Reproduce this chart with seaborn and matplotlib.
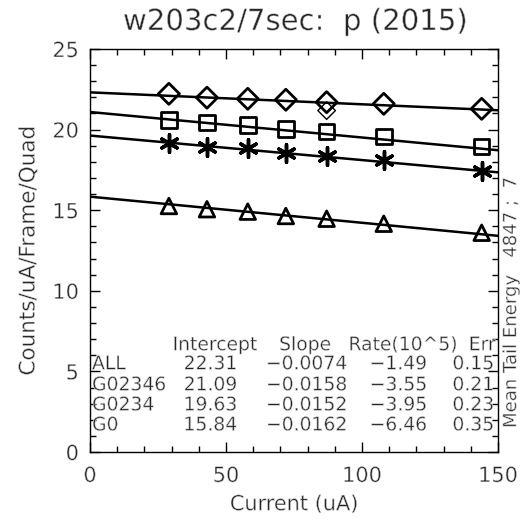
import numpy as np
import pandas as pd
import matplotlib
matplotlib.use("Agg")
import matplotlib.pyplot as plt
import matplotlib.patheffects as pe
import seaborn as sns
from matplotlib.ticker import MultipleLocator

# ---- data ----
current = [29, 43, 58, 72, 87, 108, 144]
all_vals = [22.22, 21.98, 21.91, 21.85, 21.70, 21.60, 21.29]
g02346_vals = [20.60, 20.45, 20.29, 20.04, 19.89, 19.56, 18.94]
g0234_vals = [19.15, 18.94, 18.84, 18.52, 18.38, 18.11, 17.45]
g0_vals = [15.26, 15.06, 14.91, 14.64, 14.47, 14.16, 13.60]
extra_x = [87]
extra_y = [21.18]

groups = ["ALL", "G02346", "G0234", "G0"]
intercepts = [22.31, 21.09, 19.63, 15.84]
slopes = [-0.0074, -0.0158, -0.0152, -0.0162]
rates = [-1.49, -3.55, -3.95, -6.46]
errs = [0.15, 0.21, 0.23, 0.35]
fit_x = [0, 150]

title = "w203c2/7sec:  p (2015)"
xlabel = "Current (uA)"
ylabel = "Counts/uA/Frame/Quad"
right_label = "Mean Tail Energy   4847 ;  7"

sns.set_theme(style="ticks")
plt.rcParams["font.family"] = ["DejaVu Sans"]
thin = [pe.Normal(), pe.Stroke(linewidth=0.4, foreground="white")]

fig = plt.figure(figsize=(5.23, 5.29), dpi=100)
ax = fig.add_axes([90/523, 1-452/529, 408/523, 403/529])

markers = ["D", "s", (6, 2, 0), "^"]
sizes = [115, 125, 160, 125]
series = [all_vals, g02346_vals, g0234_vals, g0_vals]

for vals, m, s in zip(series, markers, sizes):
    df = pd.DataFrame({"x": current, "y": vals})
    if m == (6, 2, 0):
        sns.scatterplot(data=df, x="x", y="y", marker=m, s=s, color="black",
                        linewidth=2.5, ax=ax, zorder=3)
    else:
        sns.scatterplot(data=df, x="x", y="y", marker=m, s=s,
                        facecolor="none", edgecolor="black", linewidth=2.0,
                        ax=ax, zorder=3)
dfe = pd.DataFrame({"x": extra_x, "y": extra_y})
sns.scatterplot(data=dfe, x="x", y="y", marker="D", s=80, facecolor="none",
                edgecolor="black", linewidth=1.0, ax=ax, zorder=3)

for b, m in zip(intercepts, slopes):
    fx = np.array(fit_x, dtype=float)
    dfl = pd.DataFrame({"x": fx, "y": b + m * fx})
    sns.lineplot(data=dfl, x="x", y="y", color="black", linewidth=1.8, ax=ax)

ax.set_xlim(0, 150)
ax.set_ylim(0, 25)
ax.xaxis.set_major_locator(MultipleLocator(50))
ax.xaxis.set_minor_locator(MultipleLocator(10))
ax.yaxis.set_major_locator(MultipleLocator(5))
ax.yaxis.set_minor_locator(MultipleLocator(1))
ax.tick_params(which="both", direction="in", top=True, right=True,
               labelsize=15, color="black", width=1)
ax.tick_params(which="major", length=7, pad=10)
ax.tick_params(which="minor", length=4)
ax.tick_params(axis="y", which="major", pad=8)
for sp in ax.spines.values():
    sp.set_visible(True)
    sp.set_color("black")
    sp.set_linewidth(1.0)

ax.set_xlabel(xlabel, fontsize=15, labelpad=6)
ax.set_ylabel(ylabel, fontsize=15.5, labelpad=10)
fig.text(295/523, 1-22/529, title, ha="center", va="center", fontsize=21)

# table of fit results
fs = 13.5
hy = (452-345)/402
ax.text((215-90)/408, hy, "Intercept", transform=ax.transAxes, ha="center", va="center", fontsize=fs)
ax.text((305-90)/408, hy, "Slope", transform=ax.transAxes, ha="center", va="center", fontsize=fs)
ax.text((403-90)/408, hy, "Rate(10^5)", transform=ax.transAxes, ha="center", va="center", fontsize=fs)
ax.text(0.995, hy, "Err", transform=ax.transAxes, ha="right", va="center", fontsize=fs)
row_y = [(452-364)/402, (452-385)/402, (452-405)/402, (452-425)/402]
for g, b, m, r, e, yy in zip(groups, intercepts, slopes, rates, errs, row_y):
    ax.text(0.005, yy, g, transform=ax.transAxes, ha="left", va="center", fontsize=fs)
    ax.text((237-90)/408, yy, f"{b:.2f}", transform=ax.transAxes, ha="right", va="center", fontsize=fs)
    ax.text((347-90)/408, yy, f"{m:.4f}".replace("-", "\u2212"), transform=ax.transAxes, ha="right", va="center", fontsize=fs)
    ax.text((427-90)/408, yy, f"{r:.2f}".replace("-", "\u2212"), transform=ax.transAxes, ha="right", va="center", fontsize=fs)
    ax.text(0.99, yy, f"{e:.2f}", transform=ax.transAxes, ha="right", va="center", fontsize=fs)

ax.text(1.01, (452-428)/402, right_label, transform=ax.transAxes, rotation=90,
        ha="left", va="bottom", fontsize=13)

for t in fig.findobj(matplotlib.text.Text):
    t.set_path_effects(thin)

fig.savefig("out.png", dpi=100, facecolor="white")
